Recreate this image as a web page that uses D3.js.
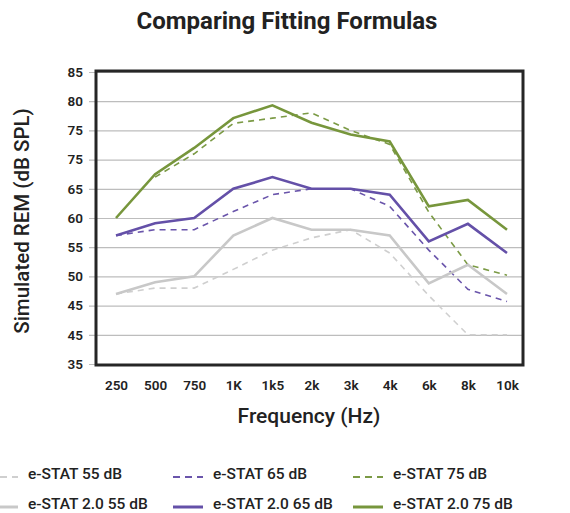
<!DOCTYPE html>
<html><head><meta charset="utf-8">
<script src="https://cdn.jsdelivr.net/npm/d3@7"></script>
<style>body{margin:0;background:#fff}svg{display:block}text{font-family:Roboto,"Noto Sans",sans-serif;fill:#222}</style>
</head><body><svg id="c" width="570" height="513"></svg>
<script>
const categories = ["250","500","750","1K","1k5","2k","3k","4k","6k","8k","10k"];
const yTickValues = [35,40,45,50,55,60,65,70,75,80,85];
const yTickLabels = ["35","45","45","50","55","60","65","75","75","80","85"];
const estat55   = [47,48,48,51.2,54.5,56.6,58,54,46.7,40,40];
const estat65   = [57,58,58,61.1,64,65,65,62,54.5,47.8,45.7];
const estat75   = [null,67,71,76.2,77.1,78,75,72.6,61,52,50.2];
const estat2_55 = [47,49,50,57,60,58,58,57,48.8,52,47];
const estat2_65 = [57,59.1,60,65,67,65,65,64,56,59,54];
const estat2_75 = [60,67.5,72,77.1,79.3,76.3,74.3,73.1,62,63.1,58];
const seriesNames = ["e-STAT 55 dB","e-STAT 65 dB","e-STAT 75 dB","e-STAT 2.0 55 dB","e-STAT 2.0 65 dB","e-STAT 2.0 75 dB"];

const series = [
  {name:seriesNames[0], values:estat55,   color:"#cfcfcf", dash:"6,5", w:1.6},
  {name:seriesNames[1], values:estat65,   color:"#6a55ab", dash:"6,5", w:1.6},
  {name:seriesNames[2], values:estat75,   color:"#7b9a45", dash:"6,5", w:1.6},
  {name:seriesNames[3], values:estat2_55, color:"#c8c8c8", dash:null,  w:2.6},
  {name:seriesNames[4], values:estat2_65, color:"#6450a8", dash:null,  w:2.6},
  {name:seriesNames[5], values:estat2_75, color:"#77963c", dash:null,  w:2.6}
];

const svg = d3.select("#c");
const L=96, R=523, T=71, B=365;
const x = d3.scalePoint().domain(categories).range([116,507]);
const y = d3.scaleLinear().domain([35,85]).range([364,72]);

svg.append("text").attr("x",287).attr("y",29).attr("text-anchor","middle")
  .style("font-size","24px").style("font-weight","700").text("Comparing Fitting Formulas");

const yAxis = d3.axisLeft(y).tickValues(yTickValues).tickSize(-(R-L)).tickPadding(6)
  .tickFormat((d,i)=>yTickLabels[i]);
const gy = svg.append("g").attr("transform",`translate(${L},0)`).call(yAxis);
gy.select(".domain").remove();
gy.selectAll(".tick line").attr("stroke","#bdbdbd").attr("stroke-width",1.2).attr("x1",-7);
gy.selectAll(".tick text").attr("x",-13).style("font-size","13.5px").style("font-weight","600").style("fill","#222");

const xAxis = d3.axisBottom(x).tickSize(0).tickPadding(0);
const gx = svg.append("g").attr("transform",`translate(0,${B})`).call(xAxis);
gx.select(".domain").remove();
gx.selectAll(".tick text").attr("y",25).attr("dy","0").style("font-size","13.5px").style("font-weight","600").style("fill","#222");

const line = d3.line().defined(d=>d!=null).x((d,i)=>x(categories[i])).y(d=>y(d));
series.forEach(s=>{
  svg.append("path").attr("d",line(s.values)).attr("fill","none").attr("stroke",s.color)
    .attr("stroke-width",s.w).attr("stroke-dasharray",s.dash).attr("stroke-linejoin","miter");
});

svg.append("rect").attr("x",L).attr("y",T).attr("width",R-L).attr("height",B-T)
  .attr("fill","none").attr("stroke","#262626").attr("stroke-width",3);

svg.append("text").attr("x",309).attr("y",423).attr("text-anchor","middle")
  .style("font-size","21px").style("font-weight","500").text("Frequency (Hz)");
svg.append("text").attr("transform","translate(29,221) rotate(-90)").attr("text-anchor","middle")
  .style("font-size","20.5px").style("font-weight","500").text("Simulated REM (dB SPL)");

const colX = [-12,173,353];
const rowY = [473,503];
series.forEach((s,i)=>{
  const c=i%3, r=Math.floor(i/3);
  const ly = rowY[r] + 4;
  svg.append("line").attr("x1",colX[c]).attr("x2",colX[c]+30).attr("y1",ly).attr("y2",ly)
    .attr("stroke",s.color).attr("stroke-width",s.dash?1.8:3).attr("stroke-dasharray",s.dash?"7,5":null);
  svg.append("text").attr("x",colX[c]+40).attr("y",rowY[r]+5.5)
    .style("font-size","15.5px").style("font-weight","500").text(s.name);
});
</script></body></html>
